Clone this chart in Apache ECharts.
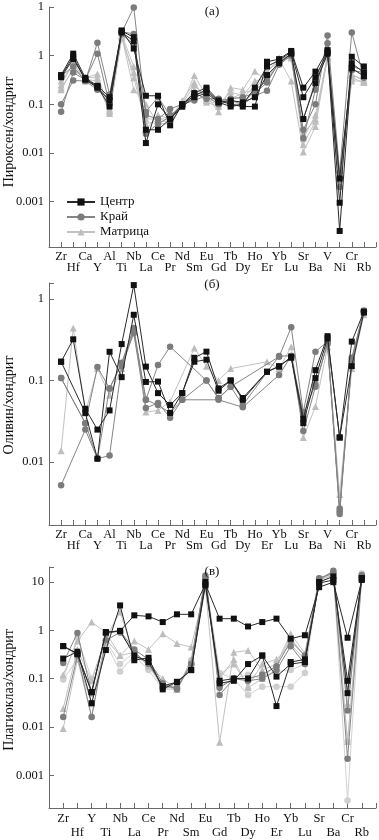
<!DOCTYPE html>
<html><head><meta charset="utf-8">
<script src="https://cdn.jsdelivr.net/npm/echarts@6/dist/echarts.min.js"></script>
<style>html,body{margin:0;padding:0;background:#fff}#c{width:379px;height:840px}</style>
</head><body><div id="c"></div>
<script>
// Categories
const catsAB = ['Zr','Hf','Ca','Y','Al','Ti','Nb','La','Ce','Pr','Nd','Sm','Eu','Gd','Tb','Dy','Ho','Er','Yb','Lu','Sr','Ba','V','Ni','Cr','Rb'];
const catsV = ['Zr','Hf','Y','Ti','Nb','La','Ce','Pr','Nd','Sm','Eu','Gd','Tb','Dy','Ho','Er','Yb','Lu','Sr','Ba','Cr','Rb'];
const legendNames = ['Центр','Край','Матрица'];
const panelTitles = ['(а)','(б)','(в)'];
const yNames = ['Пироксен/хондрит','Оливин/хондрит','Плагиоклаз/хондрит'];
const decadeLabels = {'-3':'0.001','-2':'0.01','-1':'0.1','0':'1','1':'10'};

// Panel (а) pyroxene
const a_center1 = [0.40,1.10,0.35,0.24,0.14,3.3,1.40,0.15,0.15,0.037,0.10,0.17,0.22,0.12,0.10,0.09,0.09,0.75,0.85,1.25,0.22,0.47,1.30,0.00095,0.95,0.60];
const a_center2 = [0.36,0.85,0.33,0.23,0.09,3.0,2.0,0.016,0.10,0.05,0.10,0.15,0.20,0.11,0.09,0.10,0.22,0.60,0.80,1.20,0.14,0.36,1.20,0.00025,0.70,0.45];
const a_center3 = [0.38,0.95,0.32,0.22,0.12,3.2,2.4,0.03,0.03,0.05,0.09,0.14,0.17,0.11,0.12,0.11,0.14,0.40,0.70,1.10,0.05,0.27,1.10,0.003,0.55,0.38];
const a_rim1 = [0.10,0.31,0.30,1.85,0.16,3.0,9.8,0.06,0.05,0.08,0.10,0.12,0.15,0.10,0.12,0.10,0.15,0.19,0.65,1.00,0.03,0.10,2.6,0.004,3.0,0.35];
const a_rim2 = [0.07,0.45,0.32,1.10,0.10,3.1,2.8,0.025,0.04,0.055,0.10,0.17,0.13,0.13,0.10,0.10,0.20,0.30,0.70,1.05,0.02,0.20,1.8,0.003,0.50,0.45];
const a_rim3 = [0.38,0.60,0.30,0.20,0.13,2.8,1.7,0.07,0.14,0.06,0.09,0.16,0.18,0.12,0.13,0.14,0.17,0.28,0.75,1.10,0.05,0.30,1.1,0.002,0.60,0.50];
const a_mat1 = [0.22,0.50,0.35,0.42,0.07,2.5,0.20,0.10,0.04,0.04,0.10,0.39,0.15,0.07,0.22,0.20,0.48,0.30,0.85,0.30,0.0105,0.035,1.0,0.003,0.30,0.30];
const a_mat2 = [0.20,0.55,0.33,0.30,0.065,2.3,0.45,0.05,0.05,0.05,0.12,0.28,0.12,0.10,0.18,0.15,0.30,0.35,0.80,0.90,0.015,0.045,0.9,0.0035,0.35,0.28];
const a_mat3 = [0.30,0.65,0.36,0.35,0.08,2.6,0.35,0.04,0.045,0.045,0.09,0.20,0.11,0.09,0.14,0.13,0.25,0.50,0.75,1.00,0.02,0.06,1.0,0.0028,0.40,0.32];
const a_mat4 = [0.25,0.70,0.30,0.25,0.075,2.7,0.60,0.03,0.06,0.05,0.10,0.25,0.13,0.11,0.13,0.17,0.20,0.45,0.90,0.95,0.025,0.05,0.95,0.003,0.42,0.30];

// Panel (б) olivine
const b_center1 = [0.17,0.32,0.045,0.025,0.043,0.28,1.48,0.148,0.07,0.05,0.07,0.19,0.226,0.08,0.10,0.061,null,0.128,0.148,0.196,0.034,0.134,0.35,0.02,0.30,0.70];
const b_center2 = [0.17,null,0.04,0.011,0.225,0.11,0.64,0.096,0.097,0.04,0.07,0.17,0.18,0.075,0.10,0.058,null,0.128,0.15,0.19,0.03,0.107,0.33,0.02,0.15,0.68];
const b_rim1 = [0.107,null,0.03,0.146,0.08,0.165,0.44,0.058,0.155,0.26,null,null,0.10,0.061,0.084,null,null,null,0.196,0.45,0.041,0.226,0.30,0.0027,0.19,0.72];
const b_rim2 = [0.0052,null,0.025,0.011,0.012,0.15,0.38,0.046,0.053,0.035,0.058,null,null,0.058,null,0.047,null,null,0.117,0.20,0.024,0.084,0.30,0.0023,0.18,0.70];
const b_rim3 = [0.107,null,0.03,0.011,0.08,0.16,0.40,0.058,0.05,0.04,0.058,null,0.10,0.06,0.084,0.05,null,null,0.20,0.20,0.038,0.09,0.28,0.0025,0.17,0.70];
const b_mat1 = [0.0138,0.44,0.04,0.14,0.066,0.14,0.42,0.041,0.043,0.055,null,0.25,0.15,0.10,0.14,null,null,0.17,0.14,0.26,0.02,0.048,0.26,0.004,0.14,0.64];

// Panel (в) plagioclase
const v_center1 = [0.47,0.33,0.053,0.92,0.97,2.04,1.94,1.48,2.14,2.14,9.0,1.74,1.74,1.2,1.48,1.74,0.67,0.79,7.8,9.9,0.70,11];
const v_center2 = [0.26,0.36,0.031,0.39,3.27,0.24,0.27,0.06,0.086,0.15,8.5,0.08,0.09,0.20,0.30,0.027,0.22,0.25,9.5,11,0.09,12];
const v_center3 = [0.47,0.32,0.053,0.90,0.97,0.30,0.22,0.07,0.085,0.15,10,0.09,0.10,0.10,0.30,0.11,0.20,0.22,10,13,0.05,12];
const v_rim1 = [0.21,0.88,0.05,0.85,0.97,0.40,0.25,0.08,0.06,0.20,13.6,0.046,0.10,0.09,0.10,0.15,0.47,0.20,11,17,0.022,14];
const v_rim2 = [0.016,0.30,0.016,0.62,0.90,0.35,0.20,0.07,0.065,0.20,12,0.065,0.10,0.10,0.12,0.18,0.60,0.30,12,15,0.0022,13];
const v_mat1 = [0.12,0.60,1.48,0.90,0.30,0.60,0.40,0.85,0.53,0.45,8,0.0048,0.35,0.38,0.15,0.20,0.85,0.33,11,14,0.06,12];
const v_mat2 = [0.024,0.40,0.09,0.70,2.4,0.30,0.20,0.10,0.06,0.25,9,0.10,0.25,0.065,0.10,0.20,0.70,0.28,12,15,0.005,13];
const v_mat3 = [0.0093,0.25,0.03,0.65,0.30,0.35,0.18,0.07,0.06,0.22,10,0.12,0.20,0.07,0.20,0.25,0.50,0.25,11,14,0.03,12];
const v_light1 = [0.096,0.25,0.016,0.55,0.14,0.30,0.15,0.06,0.06,0.24,12,0.13,0.10,0.046,0.068,0.068,0.068,0.13,12,16,0.0003,15];
const v_light2 = [0.10,0.70,0.10,0.60,0.20,0.35,0.20,0.06,0.07,0.20,11,0.07,0.10,0.12,0.10,0.14,0.15,0.20,10,13,0.005,13];

const SERIF = '"Liberation Serif","DejaVu Serif",serif';
const styles = {
  'Центр': {symbol:'rect', symbolSize:6, color:'#111111', line:'#2a2a2a', z:5},
  'Край': {symbol:'circle', symbolSize:6.5, color:'#7c7c7c', line:'#858585', z:4},
  'Матрица': {symbol:'triangle', symbolSize:7, color:'#bdbdbd', line:'#c2c2c2', z:3},
  'light': {symbol:'circle', symbolSize:6.5, color:'#cfcfcf', line:'#d2d2d2', z:2}
};
function mk(name, vals, idx) {
  const s = styles[name];
  return {
    type:'line', name: name === 'light' ? 'Матрица ' : name,
    xAxisIndex: idx, yAxisIndex: idx,
    data: [null].concat(vals),
    connectNulls: true, symbol: s.symbol, symbolSize: s.symbolSize,
    itemStyle: {color: s.color}, lineStyle: {color: s.line, width: 1},
    z: s.z, animation: false, emphasis: {disabled: true}, silent: true
  };
}
function padCats(c) { return [''].concat(c, ['']); }
function xAx(idx, cats, lh) {
  return {
    type:'category', gridIndex: idx, data: padCats(cats), boundaryGap: false,
    axisLine: {lineStyle: {color:'#6a6a6a', width:1}},
    axisTick: {inside: true, length: 5, interval: 0, lineStyle: {color:'#6a6a6a'}},
    axisLabel: {interval: 0, margin: 4, fontFamily: SERIF, fontSize: 12.5, color:'#111', lineHeight: lh,
      formatter: (v, i) => (i % 2 === 1 ? v : '\n' + v)},
    splitLine: {show:false}
  };
}
function yAx(idx, min, max, topOne) {
  return {
    type:'log', logBase: 10, gridIndex: idx, min: min, max: max,
    axisLine: {show:true, lineStyle: {color:'#6a6a6a', width:1}},
    axisTick: {show:true, inside: true, length: 5, lineStyle: {color:'#6a6a6a'}},
    minorTick: {show:false}, splitLine: {show:false},
    axisLabel: {showMinLabel: false, margin: 5, fontFamily: SERIF, fontSize: 12.5, color:'#111',
      formatter: (v) => {
        const e = Math.log10(v), r = Math.round(e);
        if (Math.abs(e - r) > 0.01) return '';
        if (topOne && r === 1) return '1';
        return decadeLabels[String(r)] || '';
      }}
  };
}
const grids = [
  {left:49, top:7, width:330, height:240},
  {left:49, top:283, width:330, height:242},
  {left:49, top:567, width:330, height:242}
];
const series = [
  mk('Матрица', a_mat1, 0), mk('Матрица', a_mat2, 0), mk('Матрица', a_mat3, 0), mk('Матрица', a_mat4, 0),
  mk('Край', a_rim1, 0), mk('Край', a_rim2, 0), mk('Край', a_rim3, 0),
  mk('Центр', a_center1, 0), mk('Центр', a_center2, 0), mk('Центр', a_center3, 0),
  mk('Матрица', b_mat1, 1),
  mk('Край', b_rim1, 1), mk('Край', b_rim2, 1), mk('Край', b_rim3, 1),
  mk('Центр', b_center1, 1), mk('Центр', b_center2, 1),
  mk('light', v_light1, 2), mk('light', v_light2, 2),
  mk('Матрица', v_mat1, 2), mk('Матрица', v_mat2, 2), mk('Матрица', v_mat3, 2),
  mk('Край', v_rim1, 2), mk('Край', v_rim2, 2),
  mk('Центр', v_center1, 2), mk('Центр', v_center2, 2), mk('Центр', v_center3, 2)
];
const titleY = [12, 285, 572];
const nameY = [132, 405, 690];
const graphic = [];
panelTitles.forEach((t, i) => graphic.push({type:'text', x: 212, y: titleY[i], z: 10,
  style: {text: t, font: '13px ' + SERIF, fill:'#111', textAlign:'center', textVerticalAlign:'middle'}}));
yNames.forEach((t, i) => graphic.push({type:'text', x: 9, y: nameY[i], rotation: Math.PI/2,
  style: {text: t, font: '14px ' + SERIF, fill:'#111', textAlign:'center', textVerticalAlign:'middle'}}));

const chart = echarts.init(document.getElementById('c'), null, {renderer:'canvas'});
chart.setOption({
  animation: false,
  backgroundColor: '#fff',
  grid: grids,
  xAxis: [xAx(0, catsAB, 11), xAx(1, catsAB, 11), xAx(2, catsV, 14)],
  yAxis: [yAx(0, 1.17e-4, 10, true), yAx(1, 0.00169, 1.57, false), yAx(2, 2.1e-4, 20.4, false)],
  legend: {
    data: legendNames, orient:'vertical', left: 66, top: 195, itemWidth: 28, itemHeight: 9, itemGap: 1,
    padding: 0, selectedMode: false,
    textStyle: {fontFamily: SERIF, fontSize: 13, color:'#111', lineHeight: 14}
  },
  graphic: graphic,
  series: series
});
</script>
</body></html>
